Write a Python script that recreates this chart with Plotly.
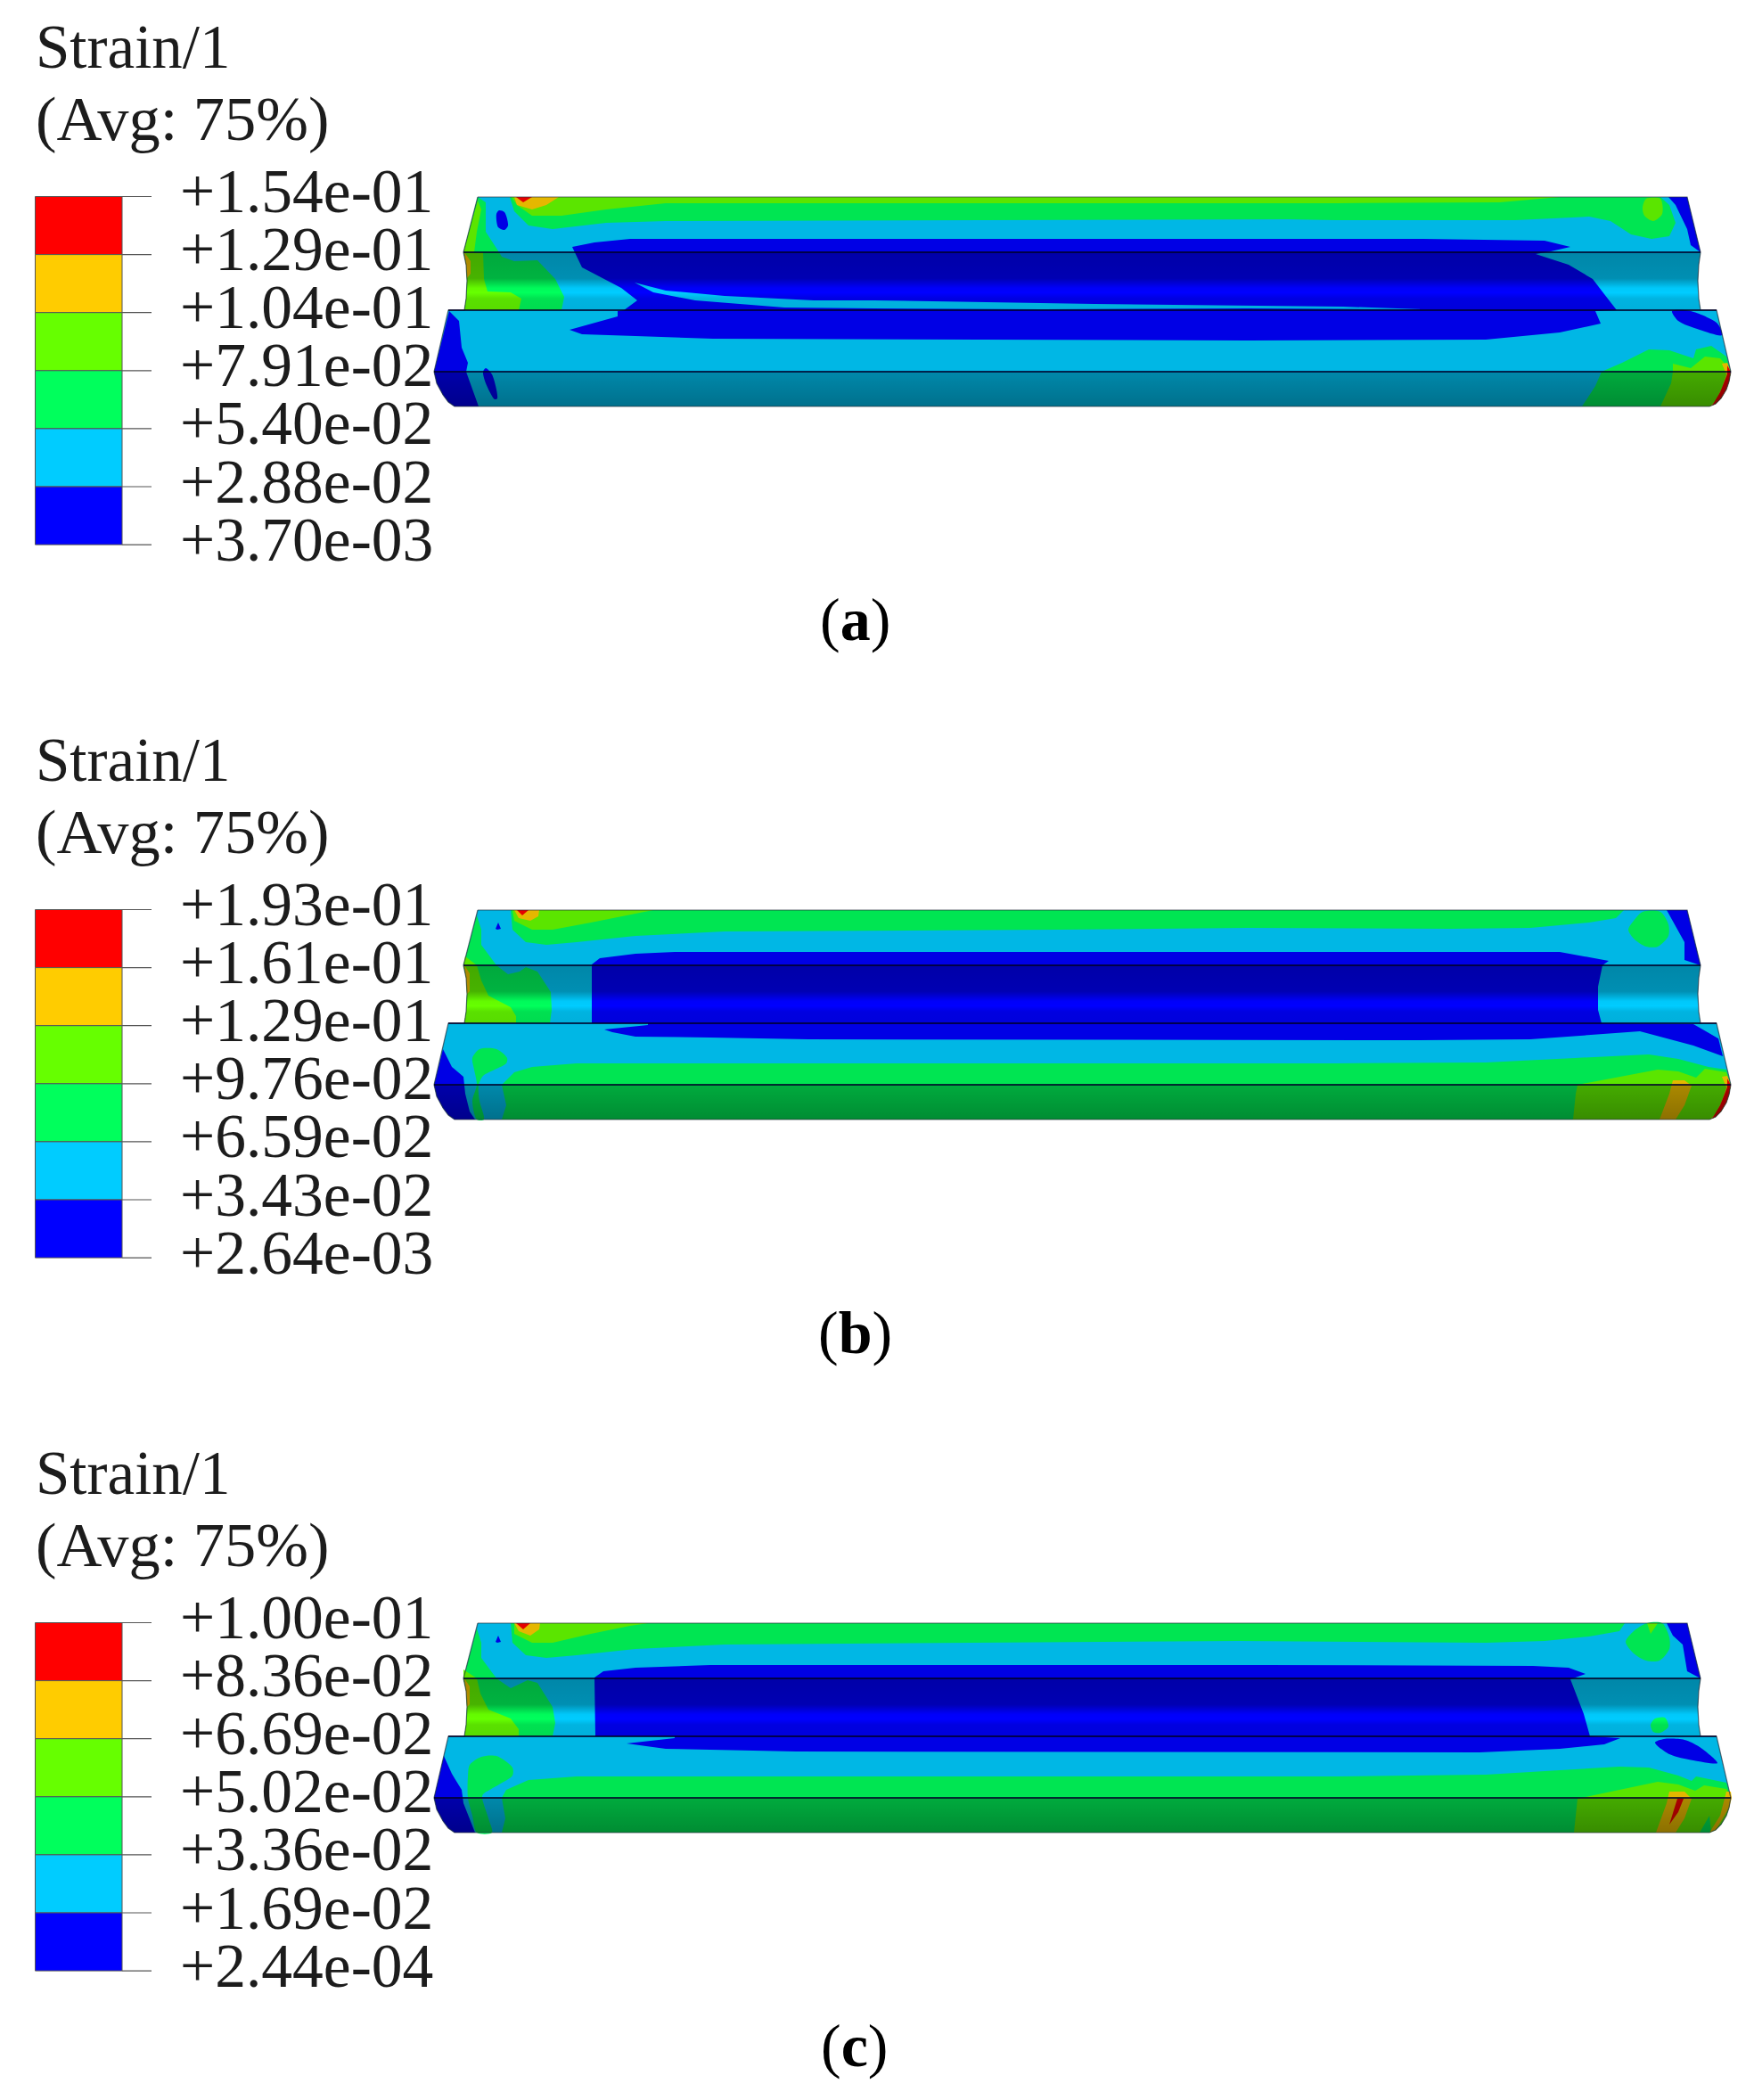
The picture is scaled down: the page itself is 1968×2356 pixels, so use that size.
import plotly.graph_objects as go

# colours of the contour legend, top cell first
legend_colors = ["#ff0000", "#ffcc00", "#66ff00", "#00ff5c", "#00ccff", "#0000ff"]
red, orange, lime, green, cyan, blue = legend_colors

labels_a = ["+1.54e-01", "+1.29e-01", "+1.04e-01", "+7.91e-02", "+5.40e-02", "+2.88e-02", "+3.70e-03"]
labels_b = ["+1.93e-01", "+1.61e-01", "+1.29e-01", "+9.76e-02", "+6.59e-02", "+3.43e-02", "+2.64e-03"]
labels_c = ["+1.00e-01", "+8.36e-02", "+6.69e-02", "+5.02e-02", "+3.36e-02", "+1.69e-02", "+2.44e-04"]
captions = ["a", "b", "c"]

legend_top = 220.5
legend_step = 65.1
panel_step = 800

# rounded ends of the front face
right_nose = [(1942,417),(1940,428),(1937,437),(1931,447),(1925,453),(1918,456)]
left_nose = [(510,456),(503,451),(497,443),(490,430),(487,417)]
right_groove = [(1908,283),(1906,297),(1905,315),(1906,335),(1908,348)]
left_groove = [(521,348),(523,335),(524,315),(523,297),(520,283)]

# body of the part, same in all three panels
body = [(536,221),(1893,221)] + right_groove + [(1926,348)] + right_nose + left_nose + [(503,348)] + left_groove
top_face = [(536,221),(1893,221),(1908,283),(520,283)]
groove_face = right_groove + left_groove
lower_face = [(503,348),(1926,348),(1942,417),(487,417)]
front_face = right_nose + left_nose
edges = [[(520,283),(1908,283)], [(503,348),(1926,348)], [(487,417),(1942,417)]]

# panel a contours
a_green_top = [(572,221),(577,237),(593,253),(620,257),(680,250),(747,248),(1445,246),(1500,247),(1700,247),(1783,243),
               (1807,248),(1830,263),(1853,268),(1873,265),(1880,250),(1873,230),(1863,221)]
a_lime_top = [(574,221),(580,230),(597,242),(630,242),(680,235),(747,228),(980,228),(1500,228),(1683,227),(1750,221)]
a_orange_top = [(577,221),(580,230),(597,235),(613,230),(627,221)]
a_red_top = [(579,221),(587,227),(597,221)]
a_blue_spot = [(557,240),(560,236),(566,238),(570,253),(566,258),(559,255)]
a_green_left = [(536,221),(545,227),(545,240),(545,260),(558,280),(563,288),(577,293),(603,292),(623,313),(633,333),
                (630,348)] + left_groove
a_lime_left = [(536,225),(540,235),(535,260),(532,283),(542,283),(543,313),(547,327),(573,328),(585,335),(582,348)] + left_groove
a_orange_left = [(521,283),(528,293),(528,307),(524,312),(523,298)]
a_blue_mid = [(642,277),(667,272),(707,268),(1597,268),(1733,270),(1762,277),(1740,282),(1723,285),(1760,297),(1787,313),
              (1800,330),(1814,348),(1790,349),(1796,363),(1750,373),(1700,378),(1667,381),(1400,382),(800,380),(713,377),
              (653,375),(639,370),(693,355),(693,349),(700,348),(715,337),(697,323),(653,300),(645,283)]
a_cyan_sliver = [(712,317),(747,326),(813,332),(913,337),(980,337),(1228,341),(1507,344),(1597,347),(1400,346),(1170,347),
                 (980,346),(880,345),(780,337),(733,328)]
a_blue_left = [(504,349),(515,360),(518,390),(525,407),(523,417),(530,437),(537,456)] + left_nose
a_blue_oval = [(542,417),(545,413),(552,420),(558,447),(555,448),(545,430)]
a_blue_right = [(1876,349),(1897,349),(1927,363),(1932,376),(1907,370),(1883,360)]
a_blue_corner = [(1872,221),(1893,221),(1908,283),(1897,275),(1893,257),(1880,230)]
a_lime_oval = [(1843,233),(1847,223),(1863,223),(1865,240),(1855,248),(1845,242)]
a_green_right = [(1775,456),(1790,433),(1797,417),(1820,407),(1850,392),(1873,393),(1900,402),(1903,392),(1920,388),
                 (1937,400)] + right_nose
a_lime_right = [(1877,408),(1897,413),(1913,400),(1930,402),(1940,413)] + right_nose + [(1863,456),(1875,430),(1877,417)]
tip_orange = [(1932,408),(1938,407)] + right_nose + [(1925,450),(1932,435),(1937,420)]
tip_red = [(1938,410),(1942,417),(1940,428),(1937,437),(1931,447),(1925,453),(1921,455),(1930,440),(1938,420)]

# panel b contours
b_green_top = [(573,221),(575,243),(590,257),(613,260),(647,257),(713,250),(813,245),(1187,243),(1400,241),(1627,242),
               (1717,241),(1783,235),(1813,230),(1822,221)]
b_lime_top = [(575,221),(577,233),(597,243),(620,243),(663,235),(713,225),(733,221)]
b_orange_top = [(577,221),(582,230),(595,233),(604,228),(605,221)]
b_red_top = [(580,221),(586,227),(593,221)]
b_blue_spot = [(556,242),(559,235),(562,242),(558,243)]
b_green_left = [(536,223),(535,227),(540,243),(540,260),(557,283),(570,293),(583,290),(590,285),(603,290),(618,313),
                (619,333),(617,348)] + left_groove
b_lime_left = [(522,273),(535,283),(540,300),(548,317),(573,330),(579,340),(579,348)] + left_groove
b_orange_left = [(521,283),(527,292),(527,312),(524,315),(523,298)]
b_blue_mid = [(664,282),(673,275),(713,270),(757,268),(1750,268),(1805,278),(1798,283),(1793,307),(1793,333),(1797,348),
              (1900,349),(1928,365),(1933,385),(1900,373),(1840,357),(1767,362),(1717,366),(1593,367),(907,366),(797,364),
              (713,363),(687,358),(678,355),(727,350),(727,348),(664,348)]
b_cyan_wedge = [(1902,349),(1926,349),(1928,365)]
b_blue_left = [(497,377),(507,397),(520,408),(522,427),(527,447),(533,456)] + left_nose
b_green_blob = [(530,387),(538,377),(557,377),(569,387),(568,393),(555,400),(542,407),(537,417),(538,435),(543,456),
                (535,456),(530,435),(535,417),(532,400)]
b_green_low = [(563,417),(567,413),(577,403),(597,397),(647,393),(1500,393),(1667,392),(1767,387),(1850,383),(1883,388),
               (1917,397),(1937,400)] + right_nose + [(563,456),(568,440)]
b_green_oval = [(1827,243),(1833,233),(1843,223),(1863,223),(1872,237),(1872,250),(1860,262),(1847,262),(1833,253)]
b_blue_corner = [(1870,221),(1893,221),(1908,283),(1890,277),(1890,257),(1877,233)]
b_lime_right = [(1765,456),(1768,427),(1770,417),(1817,408),(1860,400),(1883,402),(1903,409),(1913,399),(1937,403)] + right_nose
b_orange_right = [(1862,456),(1873,427),(1877,412),(1890,412),(1898,418),(1890,440),(1880,456)]

# panel c contours
c_green_top = [(573,221),(575,243),(590,257),(613,260),(647,257),(713,250),(813,245),(1150,243),(1390,241),(1667,243),
               (1733,241),(1783,236),(1817,230),(1823,221)]
c_lime_top = [(577,221),(577,233),(597,243),(620,243),(663,233),(707,224),(727,221)]
c_orange_top = [(577,221),(582,230),(595,235),(605,228),(606,221)]
c_red_top = [(579,221),(587,228),(595,221)]
c_green_left = [(536,223),(535,227),(540,243),(540,260),(557,283),(573,294),(592,285),(603,288),(620,315),(623,333),
                (620,348)] + left_groove
c_lime_left = [(520,273),(535,283),(539,300),(548,318),(573,328),(582,340),(582,348)] + left_groove
c_blue_mid = [(667,282),(677,275),(713,271),(797,268),(1419,268),(1720,269),(1760,271),(1779,278),(1762,284),(1777,323),
              (1784,348),(1818,350),(1800,357),(1750,362),(1660,366),(893,365),(797,363),(747,362),(703,356),(757,350),
              (757,348),(668,348)]
c_blue_left = [(498,370),(507,390),(518,408),(520,423),(533,456)] + left_nose
c_green_blob = [(525,393),(527,380),(540,371),(557,370),(575,383),(575,392),(560,402),(542,413),(541,417),(548,440),
                (552,456),(535,456),(530,437),(525,417)]
c_green_low = [(563,417),(568,408),(593,397),(647,393),(1500,393),(1667,391),(1767,385),(1817,382),(1850,383),(1883,392),
               (1898,398),(1903,393),(1937,400)] + right_nose + [(563,456),(567,440)]
c_green_oval = [(1824,242),(1833,230),(1848,221),(1865,221),(1873,237),(1873,250),(1862,263),(1847,263),(1833,255)]
c_lime_oval = [(1848,221),(1852,233),(1860,221)]
c_blue_corner = [(1870,221),(1893,221),(1908,283),(1893,275),(1888,245),(1877,235)]
c_blue_right = [(1857,355),(1867,351),(1890,352),(1907,360),(1927,378),(1900,375),(1873,368)]
c_green_spot = [(1852,335),(1857,328),(1868,327),(1872,337),(1863,344),(1855,343)]
c_lime_right = [(1766,456),(1770,418),(1817,408),(1860,399),(1883,402),(1902,409),(1912,403),(1937,407)] + right_nose
c_green_corner = [(1907,456),(1913,445),(1918,437),(1920,456)]
c_orange_right = [(1858,456),(1870,423),(1873,410),(1890,410),(1898,418),(1890,440),(1880,456)]
c_red_right = [(1873,447),(1882,418),(1889,418),(1883,433)]
c_tip_orange = [(1937,410),(1942,410),(1943,417),(1940,428),(1933,440),(1925,453),(1918,456),(1930,437)]

panels = [
    (labels_a, [(a_green_top, green), (a_lime_top, lime), (a_orange_top, orange), (a_red_top, red), (a_blue_spot, blue),
                (a_green_left, green), (a_lime_left, lime), (a_orange_left, orange), (a_blue_mid, blue),
                (a_cyan_sliver, cyan), (a_blue_left, blue), (a_blue_oval, blue), (a_blue_right, blue),
                (a_blue_corner, blue), (a_lime_oval, lime), (a_green_right, green), (a_lime_right, lime),
                (tip_orange, orange), (tip_red, red)]),
    (labels_b, [(b_green_top, green), (b_lime_top, lime), (b_orange_top, orange), (b_red_top, red), (b_blue_spot, blue),
                (b_green_left, green), (b_lime_left, lime), (b_orange_left, orange), (b_blue_mid, blue),
                (b_cyan_wedge, cyan), (b_green_low, green), (b_blue_left, blue), (b_green_blob, green),
                (b_green_oval, green), (b_blue_corner, blue), (b_lime_right, lime), (b_orange_right, orange),
                (tip_orange, orange), (tip_red, red)]),
    (labels_c, [(c_green_top, green), (c_lime_top, lime), (c_orange_top, orange), (c_red_top, red), (b_blue_spot, blue),
                (c_green_left, green), (c_lime_left, lime), (b_orange_left, orange), (c_blue_mid, blue),
                (c_green_low, green), (c_blue_left, blue), (c_green_blob, green), (c_green_oval, green),
                (c_lime_oval, lime), (c_blue_corner, blue), (c_blue_right, blue), (c_green_spot, green),
                (c_lime_right, lime), (c_green_corner, green), (c_orange_right, orange), (c_red_right, red),
                (c_tip_orange, orange)]),
]

# closed islands look better rounded
rounded = [a_blue_spot, a_blue_oval, a_lime_oval, a_blue_right, b_green_oval, b_green_blob, c_green_oval, c_green_blob,
           c_green_spot, c_blue_right]

serif = "Liberation Serif"
ink = "#1c1c1c"

fig = go.Figure()


def add_poly(pts, dy, color=None, gradient=None, smooth=False):
    xs = [p[0] for p in pts] + [pts[0][0]]
    ys = [p[1] + dy for p in pts] + [pts[0][1] + dy]
    kw = dict(fillgradient=gradient) if gradient else dict(fillcolor=color)
    line = dict(width=0, shape="spline", smoothing=0.8) if smooth else dict(width=0)
    fig.add_trace(go.Scatter(x=xs, y=ys, mode="lines", fill="toself", line=line,
                             hoverinfo="skip", showlegend=False, **kw))


for i, (labels, regions) in enumerate(panels):
    dy = i * panel_step

    # legend cells, ticks and labels
    for k, c in enumerate(legend_colors):
        y0 = legend_top + k * legend_step + dy
        fig.add_shape(type="rect", x0=39.5, x1=137, y0=y0, y1=y0 + legend_step, fillcolor=c,
                      line=dict(color="#555555", width=1))
    for k, t in enumerate(labels):
        y0 = legend_top + k * legend_step + dy
        fig.add_shape(type="line", x0=137, x1=170, y0=y0, y1=y0, line=dict(color="#555555", width=1.2))
        fig.add_annotation(x=200, y=y0 - 6, text=t, showarrow=False, xanchor="left", yanchor="middle",
                           font=dict(family=serif, size=69.5, color=ink))
    fig.add_annotation(x=38, y=52.5 + dy, text="Strain/1", showarrow=False, xanchor="left", yanchor="middle",
                       font=dict(family=serif, size=69, color=ink))
    fig.add_annotation(x=38, y=133 + dy, text="(Avg: 75%)", showarrow=False, xanchor="left", yanchor="middle",
                       font=dict(family=serif, size=70.5, color=ink))
    fig.add_annotation(x=959, y=695 + dy, text="(<b>%s</b>)" % captions[i], showarrow=False, xanchor="center",
                       yanchor="middle", font=dict(family=serif, size=68, color="#000000"))

    # contour fills, painted back to front
    add_poly(body, dy, cyan)
    for pts, c in regions:
        add_poly(pts, dy, c, smooth=any(pts is r for r in rounded))

    # lighting of the faces
    add_poly(top_face, dy, "rgba(0,0,0,0.10)")
    add_poly(lower_face, dy, "rgba(0,0,0,0.10)")
    add_poly(groove_face, dy, gradient=dict(type="vertical", start=283 + dy, stop=348 + dy, colorscale=[
        [0, "rgba(0,0,0,0.34)"], [0.45, "rgba(0,0,0,0.30)"], [0.62, "rgba(0,0,0,0.02)"], [0.70, "rgba(0,0,0,0.0)"],
        [0.80, "rgba(0,0,0,0.12)"], [1, "rgba(0,0,0,0.14)"]]))
    add_poly(front_face, dy, gradient=dict(type="vertical", start=417 + dy, stop=456 + dy, colorscale=[
        [0, "rgba(0,0,0,0.33)"], [1, "rgba(0,0,0,0.45)"]]))

    # outline and face edges
    xs = [p[0] for p in body] + [body[0][0]]
    ys = [p[1] + dy for p in body] + [body[0][1] + dy]
    fig.add_trace(go.Scatter(x=xs, y=ys, mode="lines", line=dict(color="rgba(40,50,60,0.7)", width=1.2),
                             hoverinfo="skip", showlegend=False))
    for e in edges:
        fig.add_trace(go.Scatter(x=[p[0] for p in e], y=[p[1] + dy for p in e], mode="lines",
                                 line=dict(color="rgba(0,0,40,0.8)", width=2), hoverinfo="skip", showlegend=False))

fig.update_xaxes(range=[0, 1968], visible=False, fixedrange=True)
fig.update_yaxes(range=[2356, 0], visible=False, fixedrange=True)
fig.update_layout(width=1968, height=2356, margin=dict(l=0, r=0, t=0, b=0), plot_bgcolor="white",
                  paper_bgcolor="white", showlegend=False)
fig.write_html("out.html", config={"displayModeBar": False}, post_script="document.body.style.margin='0';")
